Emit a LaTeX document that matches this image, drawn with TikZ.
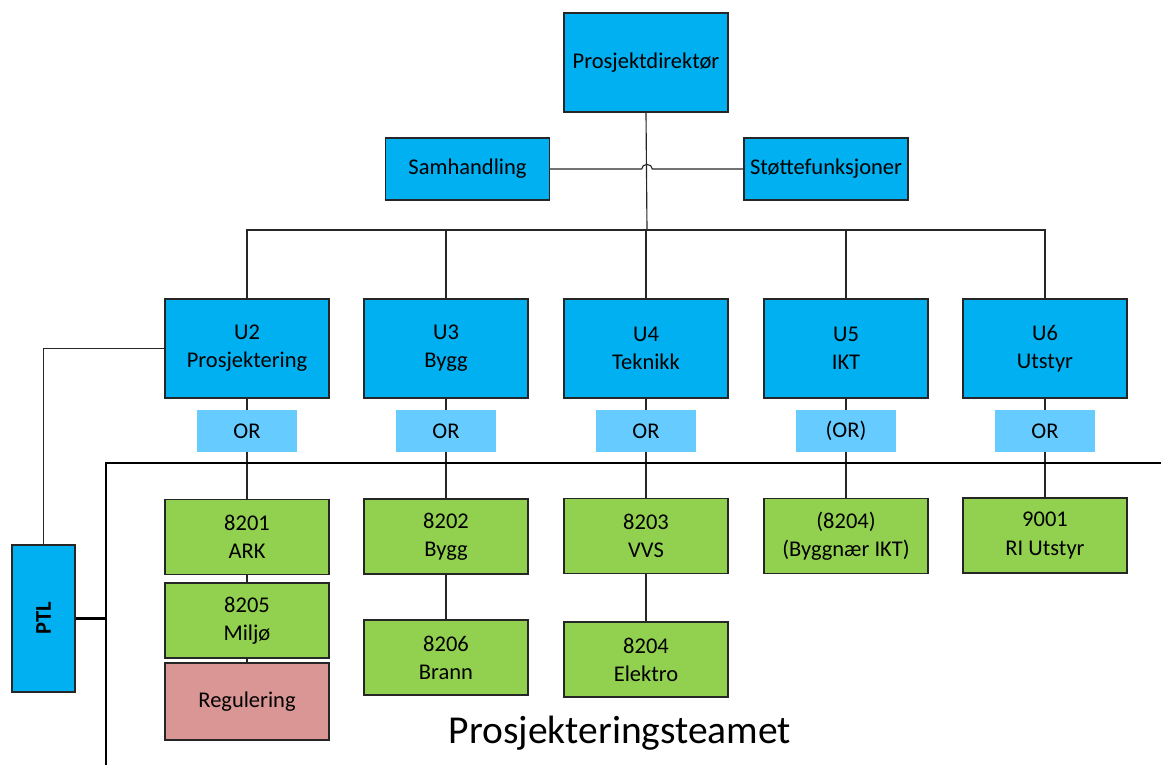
\documentclass[tikz,border=0pt]{standalone}
\usepackage{fontspec}
\setmainfont{Carlito}
\usetikzlibrary{positioning}
\definecolor{uBlue}{HTML}{00B0F0}
\definecolor{orBlue}{HTML}{66CCFF}
\definecolor{gGreen}{HTML}{92D050}
\definecolor{rRose}{HTML}{DA9694}
\begin{document}
\begin{tikzpicture}
  [x=0.02cm, y=-0.02cm,
   box/.style={draw=black!85, line width=0.6pt, align=center, inner sep=1pt,
               font=\fontsize{12.8}{16}\selectfont},
   ubox/.style={box, fill=uBlue, minimum width=3.28cm, minimum height=1.98cm},
   sbox/.style={box, fill=uBlue, minimum width=3.28cm, minimum height=1.24cm},
   orbox/.style={fill=orBlue, minimum width=2.02cm, minimum height=0.84cm,
                 font=\fontsize{12.8}{16}\selectfont},
   gbox/.style={box, fill=gGreen, minimum width=3.28cm, minimum height=1.5cm},
   rbox/.style={box, fill=rRose, minimum width=3.28cm, minimum height=1.54cm},
   con/.style={draw=black!85, line width=0.65pt},
   frame/.style={draw=black, line width=1.2pt}]
  \useasboundingbox (0,0) rectangle (1161,765);
  % top
  \node[ubox] (pd) at (646,62.5) {Prosjektdirektør};
  \node[sbox] (sam) at (467.5,169) {Samhandling};
  \node[sbox] (stf) at (826,169) {Støttefunksjoner};
  \coordinate (hop) at (647,169);
  \coordinate (bus) at (647,230);
  % U boxes
  \node[ubox] (u2) at (247,348.5) {U2\\Prosjektering};
  \node[ubox] (u3) at (446,348.5) {U3\\Bygg};
  \node[ubox] (u4) at (646,348.5) {U4\\Teknikk};
  \node[ubox] (u5) at (846,348.5) {U5\\IKT};
  \node[ubox] (u6) at (1045,348.5) {U6\\Utstyr};
  % OR
  \node[orbox] (or2) at (247,431) {OR};
  \node[orbox] (or3) at (446,431) {OR};
  \node[orbox] (or4) at (646,431) {OR};
  \node[orbox] (or5) at (846,431) {(OR)};
  \node[orbox] (or6) at (1045,431) {OR};
  % team
  \coordinate (frTR) at (1161,463);
  \coordinate (frTL) at (106,463);
  \coordinate (frBL) at (106,765);
  \node[gbox] (g8201) at (247,537) {8201\\ARK};
  \node[gbox] (g8205) at (247,620.5) {8205\\Miljø};
  \node[rbox] (reg) at (247,701.5) {Regulering};
  \node[gbox] (g8202) at (446,536.5) {8202\\Bygg};
  \node[gbox] (g8206) at (446,657.5) {8206\\Brann};
  \node[gbox] (g8203) at (646,536) {8203\\VVS};
  \node[gbox] (g8204e) at (646,659.5) {8204\\Elektro};
  \node[gbox] (g8204) at (846,536) {(8204)\\(Byggnær IKT)};
  \node[gbox] (g9001) at (1045,535.5) {9001\\RI Utstyr};
  \node[ubox, rotate=90, minimum width=2.94cm, minimum height=1.26cm,
        font=\fontsize{12.8}{16}\selectfont\bfseries] (ptl) at (43.5,618.5) {PTL};
  \node[font=\fontsize{22.5}{27}\selectfont] (team) at (620,733) {Prosjekteringsteamet};
  % lines
  \draw[con] (pd.south) -- (bus);
  \draw[con] (sam.east) -- ([xshift=-3]hop) .. controls +(0,-6) and +(0,-6) .. ([xshift=3]hop)
    -- (stf.west);
  \draw[con] (u2.north) |- (bus) -| (u6.north);
  \foreach \u in {u3,u4,u5} {
    \draw[con] (\u.north) -- (\u.north |- bus);
  }
  \foreach \a/\b in {u2/or2,u3/or3,u4/or4,u5/or5,u6/or6,
                     or2/g8201,or3/g8202,or4/g8203,or5/g8204,or6/g9001,
                     g8201/g8205,g8205/reg,g8202/g8206,g8203/g8204e} {
    \draw[con] (\a) -- (\b);
  }
  \draw[con] (u2.west) -| (ptl.east);
  \draw[frame] (frTR) -- (frTL) -- (frBL);
  \draw[frame] (ptl.south) -- (ptl.south -| frBL);
\end{tikzpicture}
\end{document}
